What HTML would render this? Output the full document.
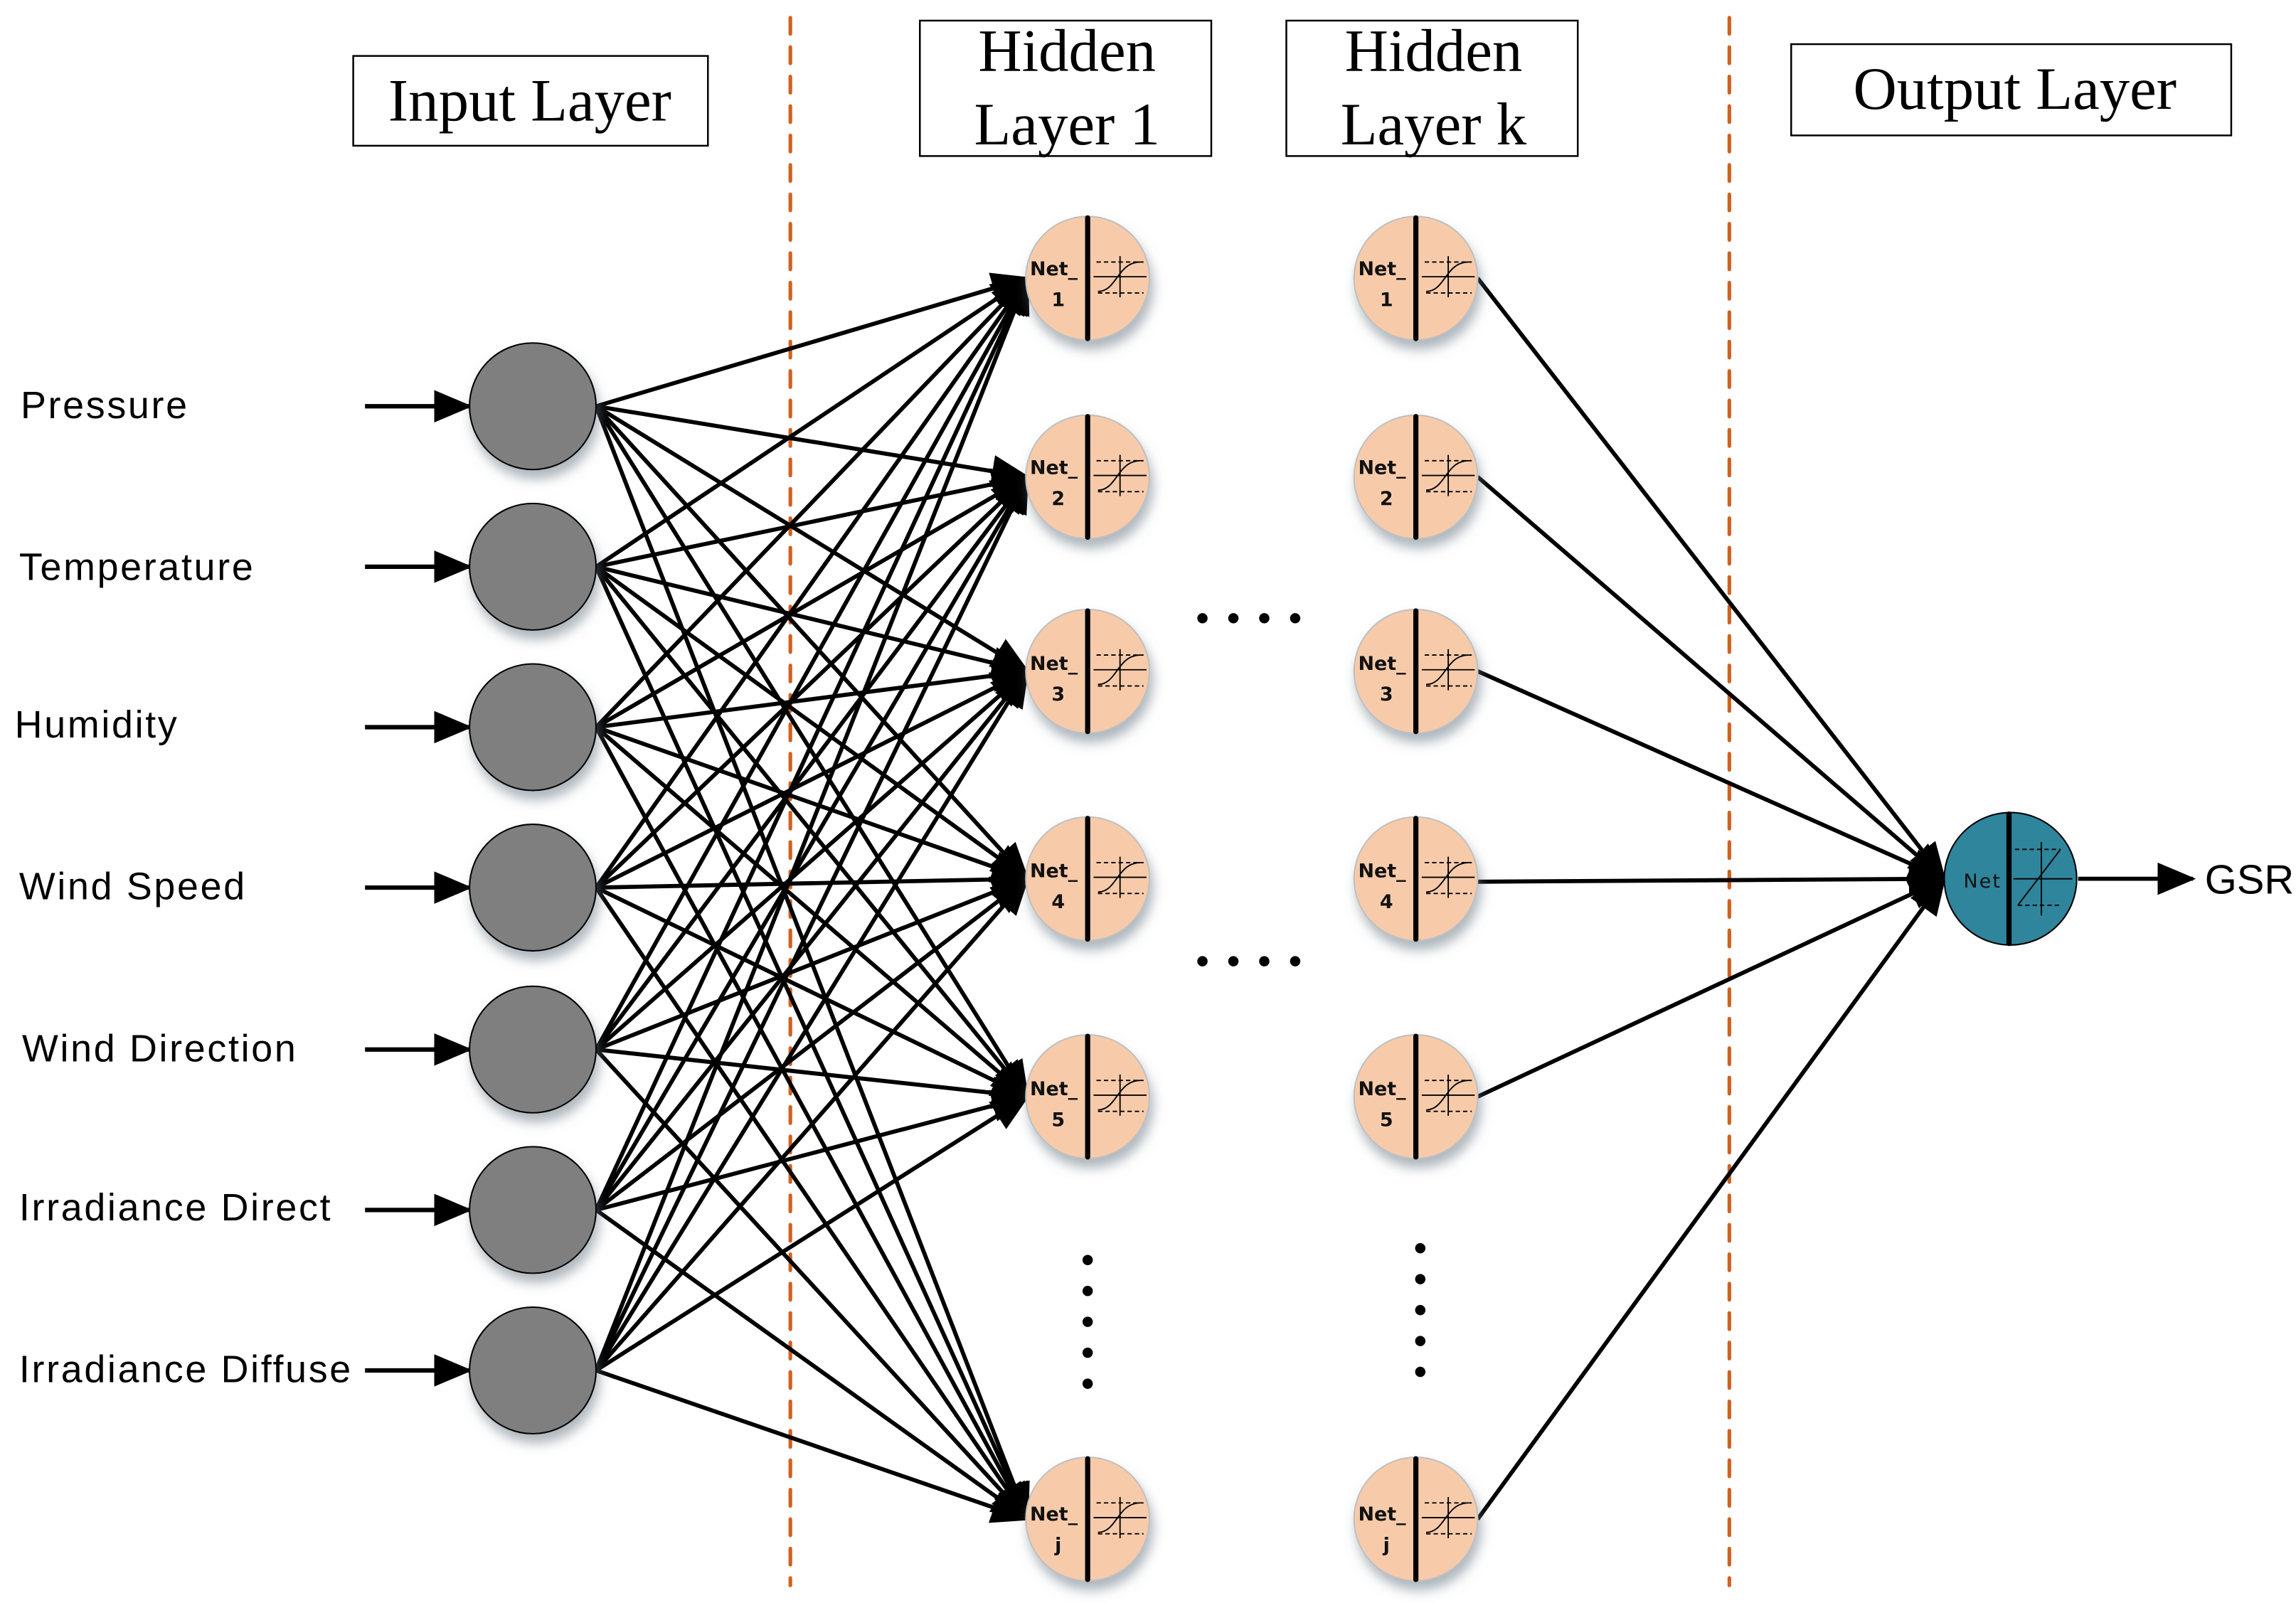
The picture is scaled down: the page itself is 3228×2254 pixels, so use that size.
<!DOCTYPE html>
<html><head><meta charset="utf-8"><style>
html,body{margin:0;padding:0;background:#fff;}
svg{display:block;}
</style></head><body>
<svg width="3228" height="2254" viewBox="0 0 1560 1089" preserveAspectRatio="none" xmlns="http://www.w3.org/2000/svg">
<defs>
<marker id="ah" markerUnits="userSpaceOnUse" markerWidth="26" markerHeight="22" refX="24" refY="11" orient="auto">
<path d="M0,0 L26,11 L0,22 Z" fill="#000"/>
</marker>
<filter id="sh" x="-30%" y="-30%" width="160%" height="170%">
<feDropShadow dx="2" dy="6" stdDeviation="4" flood-color="#6b7a85" flood-opacity="0.55"/>
</filter>
<g id="hn">
<circle r="42" fill="#f7cbaa" stroke="#c0c0c0" stroke-width="1" filter="url(#sh)"/>
<line x1="0" y1="-41" x2="0" y2="41" stroke="#000" stroke-width="3.5" stroke-linecap="round"/>
<line x1="6" y1="-11" x2="38" y2="-11" stroke="#000" stroke-width="0.9" stroke-dasharray="3,2"/>
<line x1="7" y1="10" x2="38" y2="10" stroke="#000" stroke-width="0.9" stroke-dasharray="3,2"/>
<line x1="4" y1="-1" x2="40" y2="-1" stroke="#000" stroke-width="0.9"/>
<line x1="22" y1="-15" x2="22" y2="13" stroke="#000" stroke-width="0.9"/>
<path d="M7,9 C20,9 20,-11 36,-11" fill="none" stroke="#000" stroke-width="0.9"/>
</g>
<g id="inode">
<circle r="43" fill="#7f7f7f" stroke="#000" stroke-width="1" filter="url(#sh)"/>
</g>
</defs>

<line x1="537" y1="12" x2="537" y2="1077" stroke="#cf6220" stroke-width="2.5" stroke-dasharray="11,9" stroke-linecap="round"/>
<line x1="1175" y1="12" x2="1175" y2="1077" stroke="#cf6220" stroke-width="2.5" stroke-dasharray="11,9" stroke-linecap="round"/>

<g fill="#fff" stroke="#000" stroke-width="1.2">
<rect x="240" y="38" width="241" height="61"/>
<rect x="625" y="14" width="198" height="92"/>
<rect x="874" y="14" width="198" height="92"/>
<rect x="1217" y="30" width="299" height="62"/>
</g>
<g font-family="Liberation Serif, serif" font-size="41" text-anchor="middle" fill="#000">
<text x="360" y="82">Input Layer</text>
<text x="725" y="48">Hidden</text>
<text x="725" y="98">Layer 1</text>
<text x="974" y="48">Hidden</text>
<text x="974" y="98">Layer k</text>
<text x="1369" y="74">Output Layer</text>
</g>

<g font-family="Liberation Sans, DejaVu Sans, sans-serif" font-size="26" fill="#000" letter-spacing="1.3">
<text x="14" y="284">Pressure</text>
<text x="13" y="394">Temperature</text>
<text x="10" y="501">Humidity</text>
<text x="13" y="611">Wind Speed</text>
<text x="15" y="721">Wind Direction</text>
<text x="13" y="829">Irradiance Direct</text>
<text x="13" y="939">Irradiance Diffuse</text>
</g>

<g stroke="#000" stroke-width="3" marker-end="url(#ah)">
<line x1="248" y1="276" x2="319" y2="276"/>
<line x1="248" y1="385" x2="319" y2="385"/>
<line x1="248" y1="494" x2="319" y2="494"/>
<line x1="248" y1="603" x2="319" y2="603"/>
<line x1="248" y1="713" x2="319" y2="713"/>
<line x1="248" y1="822" x2="319" y2="822"/>
<line x1="248" y1="931" x2="319" y2="931"/>
</g>

<g stroke="#000" stroke-width="2.8" marker-end="url(#ah)">
<line x1="405" y1="276" x2="698" y2="189"/><line x1="405" y1="276" x2="698" y2="324"/><line x1="405" y1="276" x2="698" y2="456"/><line x1="405" y1="276" x2="698" y2="597"/><line x1="405" y1="276" x2="698" y2="745"/><line x1="405" y1="276" x2="698" y2="1032"/>
<line x1="405" y1="385" x2="698" y2="189"/><line x1="405" y1="385" x2="698" y2="324"/><line x1="405" y1="385" x2="698" y2="456"/><line x1="405" y1="385" x2="698" y2="597"/><line x1="405" y1="385" x2="698" y2="745"/><line x1="405" y1="385" x2="698" y2="1032"/>
<line x1="405" y1="494" x2="698" y2="189"/><line x1="405" y1="494" x2="698" y2="324"/><line x1="405" y1="494" x2="698" y2="456"/><line x1="405" y1="494" x2="698" y2="597"/><line x1="405" y1="494" x2="698" y2="745"/><line x1="405" y1="494" x2="698" y2="1032"/>
<line x1="405" y1="603" x2="698" y2="189"/><line x1="405" y1="603" x2="698" y2="324"/><line x1="405" y1="603" x2="698" y2="456"/><line x1="405" y1="603" x2="698" y2="597"/><line x1="405" y1="603" x2="698" y2="745"/><line x1="405" y1="603" x2="698" y2="1032"/>
<line x1="405" y1="713" x2="698" y2="189"/><line x1="405" y1="713" x2="698" y2="324"/><line x1="405" y1="713" x2="698" y2="456"/><line x1="405" y1="713" x2="698" y2="597"/><line x1="405" y1="713" x2="698" y2="745"/><line x1="405" y1="713" x2="698" y2="1032"/>
<line x1="405" y1="822" x2="698" y2="189"/><line x1="405" y1="822" x2="698" y2="324"/><line x1="405" y1="822" x2="698" y2="456"/><line x1="405" y1="822" x2="698" y2="597"/><line x1="405" y1="822" x2="698" y2="745"/><line x1="405" y1="822" x2="698" y2="1032"/>
<line x1="405" y1="931" x2="698" y2="189"/><line x1="405" y1="931" x2="698" y2="324"/><line x1="405" y1="931" x2="698" y2="456"/><line x1="405" y1="931" x2="698" y2="597"/><line x1="405" y1="931" x2="698" y2="745"/><line x1="405" y1="931" x2="698" y2="1032"/>
</g>

<g stroke="#000" stroke-width="2.8" marker-end="url(#ah)">
<line x1="1004" y1="189" x2="1321" y2="597"/>
<line x1="1004" y1="324" x2="1321" y2="597"/>
<line x1="1004" y1="456" x2="1321" y2="597"/>
<line x1="1004" y1="599" x2="1321" y2="597"/>
<line x1="1004" y1="745" x2="1321" y2="597"/>
<line x1="1004" y1="1032" x2="1321" y2="597"/>
<line x1="1412" y1="597" x2="1490" y2="597"/>
</g>

<use href="#inode" x="362" y="276"/>
<use href="#inode" x="362" y="385"/>
<use href="#inode" x="362" y="494"/>
<use href="#inode" x="362" y="603"/>
<use href="#inode" x="362" y="713"/>
<use href="#inode" x="362" y="822"/>
<use href="#inode" x="362" y="931"/>

<use href="#hn" x="739" y="189"/><use href="#hn" x="739" y="324"/><use href="#hn" x="739" y="456"/><use href="#hn" x="739" y="597"/><use href="#hn" x="739" y="745"/><use href="#hn" x="739" y="1032"/>
<use href="#hn" x="962" y="189"/><use href="#hn" x="962" y="324"/><use href="#hn" x="962" y="456"/><use href="#hn" x="962" y="597"/><use href="#hn" x="962" y="745"/><use href="#hn" x="962" y="1032"/>

<g font-family="DejaVu Sans, Liberation Sans, sans-serif" font-size="13" font-weight="bold" fill="#111" text-anchor="middle">
<text x="716" y="187">Net_</text><text x="719" y="208">1</text>
<text x="716" y="322">Net_</text><text x="719" y="343">2</text>
<text x="716" y="455">Net_</text><text x="719" y="476">3</text>
<text x="716" y="596">Net_</text><text x="719" y="617">4</text>
<text x="716" y="744">Net_</text><text x="719" y="765">5</text>
<text x="716" y="1033">Net_</text><text x="719" y="1054">j</text>
<text x="939" y="187">Net_</text><text x="942" y="208">1</text>
<text x="939" y="322">Net_</text><text x="942" y="343">2</text>
<text x="939" y="455">Net_</text><text x="942" y="476">3</text>
<text x="939" y="596">Net_</text><text x="942" y="617">4</text>
<text x="939" y="744">Net_</text><text x="942" y="765">5</text>
<text x="939" y="1033">Net_</text><text x="942" y="1054">j</text>
</g>

<circle cx="1366" cy="597" r="45" fill="#2e859c" stroke="#000" stroke-width="1"/>
<line x1="1365" y1="553" x2="1365" y2="641" stroke="#000" stroke-width="3.5" stroke-linecap="round"/>
<g stroke="#000" stroke-width="0.9" fill="none">
<line x1="1369" y1="577" x2="1400" y2="577" stroke-dasharray="3,2"/>
<line x1="1371" y1="615" x2="1400" y2="615" stroke-dasharray="3,2"/>
<line x1="1368" y1="597" x2="1408" y2="597"/>
<line x1="1387" y1="572" x2="1387" y2="622"/>
<line x1="1371" y1="615" x2="1400" y2="577"/>
</g>
<text x="1347" y="603" font-family="DejaVu Sans, Liberation Sans, sans-serif" font-size="13" fill="#111" text-anchor="middle" letter-spacing="1">Net</text>
<text x="1498" y="607" font-family="Liberation Sans, sans-serif" font-size="28" fill="#000">GSR</text>

<g fill="#000">
<circle cx="817" cy="420" r="3.5"/><circle cx="838" cy="420" r="3.5"/><circle cx="859" cy="420" r="3.5"/><circle cx="880" cy="420" r="3.5"/>
<circle cx="817" cy="653" r="3.5"/><circle cx="838" cy="653" r="3.5"/><circle cx="859" cy="653" r="3.5"/><circle cx="880" cy="653" r="3.5"/>
<circle cx="739" cy="856" r="3.5"/><circle cx="739" cy="877" r="3.5"/><circle cx="739" cy="898" r="3.5"/><circle cx="739" cy="919" r="3.5"/><circle cx="739" cy="940" r="3.5"/>
<circle cx="965" cy="848" r="3.5"/><circle cx="965" cy="869" r="3.5"/><circle cx="965" cy="890" r="3.5"/><circle cx="965" cy="911" r="3.5"/><circle cx="965" cy="932" r="3.5"/>
</g>
</svg>
</body></html>
